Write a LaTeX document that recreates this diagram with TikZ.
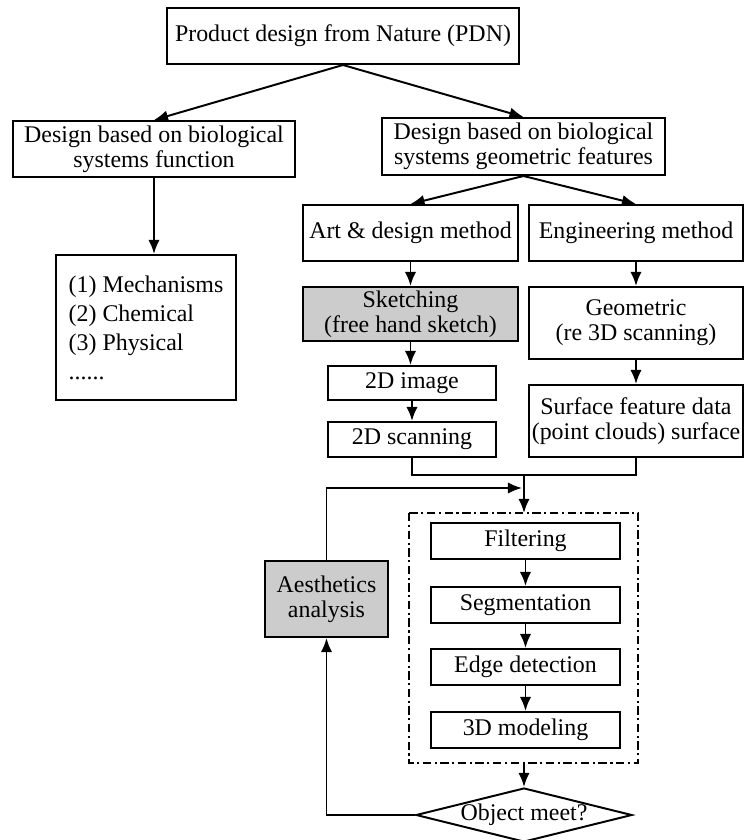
\documentclass[tikz,border=0pt]{standalone}
\usepackage{fontspec}
\setmainfont{Liberation Serif}
\usetikzlibrary{arrows.meta,shapes.geometric}

\begin{document}
\begin{tikzpicture}[x=0.025cm,y=-0.025cm,line width=1.4pt,>={Latex[length=10pt,width=8pt]},
  every node/.style={font=\fontsize{17}{18}\selectfont},
  box/.style={draw,rectangle,inner sep=0pt,align=center,minimum height=1.4cm},
  shaded/.style={box,fill=black!20},
  stage/.style={box,minimum width=4.725cm,minimum height=0.9cm},
  dashdot/.style={dash pattern=on 6pt off 2.5pt on 1.5pt off 2.5pt}]
\useasboundingbox (0,0) rectangle (744,840);

\node[box,minimum width=8.8cm] (pdn) at (343,36) {Product design from Nature (PDN)};
\node[box,minimum width=7.05cm] (func) at (154,149) {Design based on biological\\systems function};
\node[box,minimum width=7.075cm,minimum height=1.425cm] (geo) at (523.5,146.5) {Design based on biological\\systems geometric features};
\node[box,minimum width=4.5cm,minimum height=3.625cm,align=left,font=\fontsize{17}{20.6}\selectfont] (list) at (146,327.5) {(1) Mechanisms\\(2) Chemical\\(3) Physical\\......};

\node[box,minimum width=5.375cm] (art) at (410.5,233) {Art \& design method};
\node[box,minimum width=5.35cm] (eng) at (636,233) {Engineering method};
\node[shaded,minimum width=5.375cm,minimum height=1.35cm] (sketch) at (410.5,314) {Sketching\\(free hand sketch)};
\node[box,minimum width=5.35cm,minimum height=1.8cm] (geom) at (636,323) {Geometric\\(re 3D scanning)};
\node[box,minimum width=4.2cm,minimum height=0.85cm] (img) at (412,383) {2D image};
\node[box,minimum width=4.2cm,minimum height=0.875cm] (scan) at (412,439.5) {2D scanning};
\node[box,minimum width=5.35cm,minimum height=1.8cm] (surf) at (636,421) {Surface feature data\\(point clouds) surface};

\draw[dashdot] (409,513) rectangle (638,763);
\node[stage] (filt) at (525.5,541) {Filtering};
\node[stage] (seg) at (525.5,605) {Segmentation};
\node[stage] (edge) at (525.5,667) {Edge detection};
\node[stage] (model) at (525.5,730) {3D modeling};
\node[draw,diamond,aspect=4,inner sep=0pt,minimum width=5.4cm,minimum height=1.35cm] (obj) at (524,815) {Object meet?};
\node[shaded,minimum width=3.075cm,minimum height=1.9cm] (aes) at (326.5,599) {Aesthetics\\analysis};

\coordinate (mrg) at (524,475);
\coordinate (frm) at (524,513);
\coordinate (frmb) at (524,763);
\coordinate (fb) at (522,488);

\draw[->] (pdn.south) -- (func.north);
\draw[->] (pdn.south) -- (geo.north);
\draw[->] (func.south) -- (func.south |- list.north);
\draw[->] (geo.south) -- (art.north);
\draw[->] (geo.south) -- (eng.north);
\draw[->] (art) -- (sketch);
\draw[->] (sketch) -- (sketch.south |- img.north);
\draw[->] (img) -- (scan);
\draw[->] (eng) -- (geom);
\draw[->] (geom) -- (surf);
\draw (scan.south) |- (mrg) -| (surf.south);
\draw[->] (mrg) -- (frm);
\draw[->] (filt) -- (seg);
\draw[->] (seg) -- (edge);
\draw[->] (edge) -- (model);
\draw[->] (frmb) -- (obj.north);
\draw[->] (obj.west) -| (aes.south);
\draw[->] (aes.north) |- (fb);
\end{tikzpicture}
\end{document}
